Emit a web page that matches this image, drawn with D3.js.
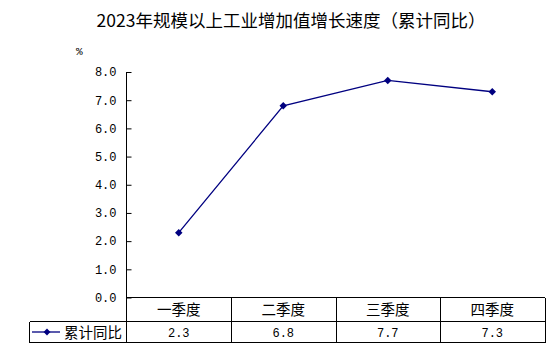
<!DOCTYPE html>
<html><head><meta charset="utf-8">
<script src="https://cdn.jsdelivr.net/npm/d3@7"></script>
<style>body{margin:0;background:#fff}svg{display:block}</style>
</head><body><svg id="c" width="554" height="358"></svg>
<script>
const title = "2023年规模以上工业增加值增长速度（累计同比）";
const categories = ["一季度","二季度","三季度","四季度"];
const seriesName = "累计同比";
const values = [2.3, 6.8, 7.7, 7.3];
const yTicks = [0,1,2,3,4,5,6,7,8];
const unit = "%";

(function(){
const svg = d3.select("#c");
const pLeft = 126.5, pRight = 544.5, pTop = 72, pBottom = 297.5;
const row1 = 321.5, row2 = 342.5, legLeft = 29.5;
const cjk = "'Noto Sans CJK SC', sans-serif";
const mono = "'Liberation Mono','DejaVu Sans Mono', monospace";
const color = "#000080";

svg.append("text").attr("x", 291).attr("y", 27).attr("text-anchor","middle")
  .attr("font-family", cjk).attr("font-size", 17.5).attr("fill","#000").text(title);
svg.append("text").attr("x", 76).attr("y", 55).attr("font-family", mono)
  .attr("font-size", 11).text(unit);

const x = d3.scaleBand().domain(categories).range([pLeft, pRight]);
const y = d3.scaleLinear().domain([0, 8]).range([pBottom, pTop]);

const ya = svg.append("g").attr("transform", `translate(${pLeft},0)`)
  .call(d3.axisLeft(y).tickValues(yTicks).tickFormat(d3.format(".1f")).tickSizeInner(-5).tickSizeOuter(0).tickPadding(10));
ya.select(".domain").attr("d", `M0,${pTop}V${row2}`).attr("stroke","#000");
ya.selectAll("text").attr("font-family", mono).attr("font-size", 12).attr("fill","#000");
ya.selectAll("line").attr("stroke","#000");

const g = svg.append("g").attr("stroke","#000").attr("fill","none").attr("shape-rendering","crispEdges");
g.append("line").attr("x1", pLeft).attr("x2", pRight).attr("y1", pBottom).attr("y2", pBottom);
g.append("line").attr("x1", legLeft).attr("x2", pRight).attr("y1", row1).attr("y2", row1);
g.append("line").attr("x1", legLeft).attr("x2", pRight).attr("y1", row2).attr("y2", row2);
g.append("line").attr("x1", legLeft).attr("x2", legLeft).attr("y1", row1).attr("y2", row2);
categories.forEach(c => {
  const xe = x(c) + x.bandwidth();
  g.append("line").attr("x1", Math.round(xe)+0.5).attr("x2", Math.round(xe)+0.5).attr("y1", pBottom).attr("y2", row2);
});

svg.selectAll(".cat").data(categories).join("text")
  .attr("x", d => x(d) + x.bandwidth()/2).attr("y", (pBottom+row1)/2 + 5.5)
  .attr("text-anchor","middle").attr("font-family", cjk).attr("font-size", 14.5).text(d => d);
svg.selectAll(".val").data(values).join("text")
  .attr("x", (d,i) => x(categories[i]) + x.bandwidth()/2).attr("y", (row1+row2)/2 + 4.5)
  .attr("text-anchor","middle").attr("font-family", mono).attr("font-size", 12).text(d => d.toFixed(1));

const ly = (row1+row2)/2;
svg.append("line").attr("x1", 32).attr("x2", 60).attr("y1", ly).attr("y2", ly).attr("stroke", color).attr("stroke-width", 1.3);
svg.append("path").attr("d", d3.symbol(d3.symbolDiamond2, 30)()).attr("transform", `translate(47,${ly})`).attr("fill", color);
svg.append("text").attr("x", 64).attr("y", ly + 5.5).attr("font-family", cjk).attr("font-size", 14.5).text(seriesName);

const line = d3.line().x((d,i) => x(categories[i]) + x.bandwidth()/2).y(d => y(d));
svg.append("path").datum(values).attr("d", line).attr("fill","none").attr("stroke", color).attr("stroke-width", 1.3);
svg.selectAll(".pt").data(values).join("path")
  .attr("d", d3.symbol(d3.symbolDiamond2, 36)())
  .attr("transform", (d,i) => `translate(${x(categories[i]) + x.bandwidth()/2},${y(d)})`)
  .attr("fill", color);
})();
</script></body></html>
